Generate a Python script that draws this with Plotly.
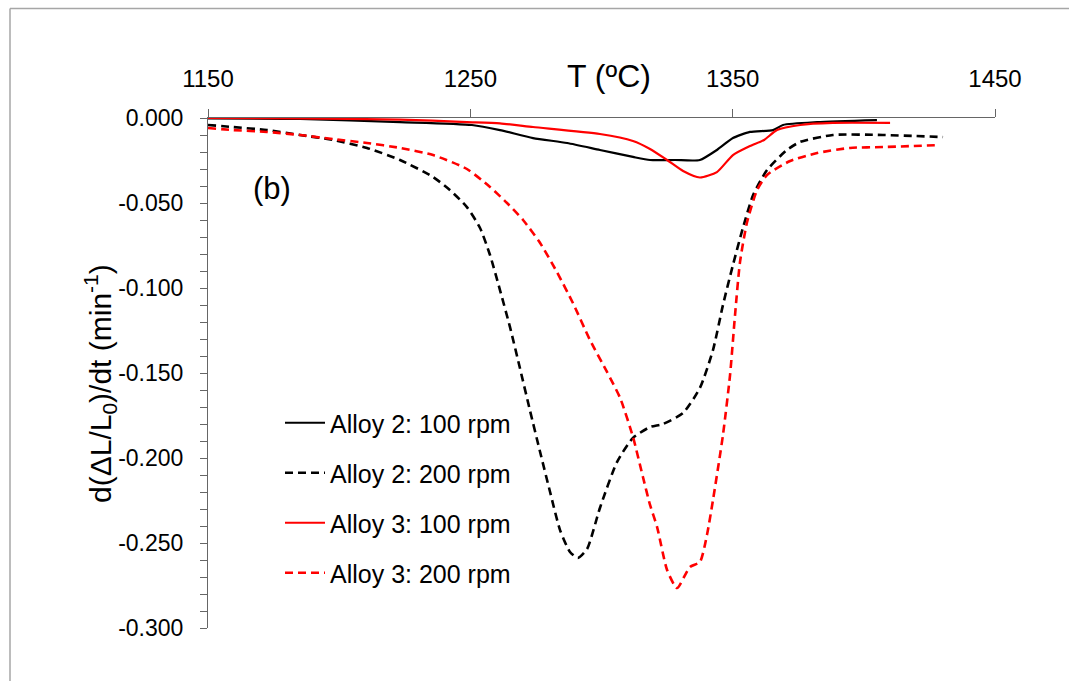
import plotly.graph_objects as go

# ---------------- data ----------------
t_a2_100 = [1150, 1185.1, 1223.2, 1250.6, 1261.3, 1273.9, 1286.9, 1299.4, 1312.0, 1318.5, 1328.0,
            1337.5, 1344.0, 1350.1, 1356.6, 1365.4, 1369.2, 1382.2, 1405.0]
y_a2_100 = [-0.0003, -0.0006, -0.0024, -0.0041, -0.0071, -0.0118, -0.0147, -0.0188, -0.0229, -0.0247, -0.0247,
            -0.0247, -0.0188, -0.0118, -0.0082, -0.0071, -0.0041, -0.0024, -0.0012]

t_a2_200 = [1150, 1159.5, 1172.5, 1185.1, 1197.6, 1210.6, 1223.2, 1235.8, 1242.2, 1248.7, 1253.7,
            1257.5, 1261.3, 1265.1, 1268.9, 1272.7, 1276.6, 1280.4, 1284.2, 1288.0, 1291.0, 1294.5,
            1299.4, 1305.9, 1312.0, 1318.5, 1323.4, 1331.1, 1337.5, 1342.5, 1346.3, 1350.1, 1353.9,
            1357.8, 1363.1, 1370.7, 1375.7, 1388.2, 1407.3, 1430.2]
y_a2_200 = [-0.0041, -0.0053, -0.0071, -0.0100, -0.0129, -0.0176, -0.0247, -0.0347, -0.0424, -0.0524, -0.0647,
            -0.0806, -0.1012, -0.1229, -0.1471, -0.1718, -0.1965, -0.2200, -0.2424, -0.2553, -0.2588, -0.2535,
            -0.2294, -0.2024, -0.1882, -0.1818, -0.1800, -0.1735, -0.1588, -0.1365, -0.1100, -0.0865, -0.0647,
            -0.0453, -0.0306, -0.0188, -0.0141, -0.0100, -0.0100, -0.0112]

t_a3_100 = [1150, 1185.1, 1223.2, 1248.7, 1261.3, 1273.9, 1299.4, 1312.0, 1318.5, 1325.0, 1331.1,
            1337.5, 1344.0, 1350.1, 1356.6, 1362.0, 1366.9, 1375.7, 1388.2, 1410.0]
y_a3_100 = [0.0, -0.0003, -0.0009, -0.0024, -0.0032, -0.0053, -0.0094, -0.0135, -0.0182, -0.0247, -0.0312,
            -0.0350, -0.0318, -0.0218, -0.0165, -0.0129, -0.0071, -0.0041, -0.0029, -0.0029]

t_a3_200 = [1150, 1159.5, 1172.5, 1185.1, 1197.6, 1210.6, 1223.2, 1235.8, 1248.7, 1257.5, 1264.0,
            1270.1, 1276.6, 1283.0, 1289.1, 1295.6, 1302.1, 1307.1, 1312.0, 1315.8, 1318.5, 1321.2,
            1325.0, 1328.8, 1333.7, 1337.5, 1340.2, 1342.5, 1346.3, 1349.0, 1350.9, 1352.8, 1355.5,
            1359.3, 1363.1, 1371.9, 1382.2, 1394.7, 1407.3, 1429.0]
y_a3_200 = [-0.0059, -0.0071, -0.0082, -0.0100, -0.0124, -0.0147, -0.0176, -0.0218, -0.0300, -0.0406, -0.0500,
            -0.0600, -0.0735, -0.0906, -0.1088, -0.1306, -0.1494, -0.1647, -0.1876, -0.2112, -0.2276, -0.2406,
            -0.2659, -0.2765, -0.2641, -0.2612, -0.2453, -0.2247, -0.1865, -0.1512, -0.1159, -0.0847, -0.0612,
            -0.0424, -0.0335, -0.0253, -0.0206, -0.0176, -0.0171, -0.0159]

series_names = ["Alloy 2: 100 rpm", "Alloy 2: 200 rpm", "Alloy 3: 100 rpm", "Alloy 3: 200 rpm"]

x_ticks = [1150, 1250, 1350, 1450]
y_ticks = [0.0, -0.05, -0.10, -0.15, -0.20, -0.25, -0.30]
y_ticktext = ["0.000", "-0.050", "-0.100", "-0.150", "-0.200", "-0.250", "-0.300"]

# ---------------- figure ----------------
FONT = "Liberation Sans, Arial, sans-serif"
fig = go.Figure()

styles = [
    dict(color="#000000", width=2.2, dash="solid"),
    dict(color="#000000", width=2.6, dash="8px,5px"),
    dict(color="#ff0000", width=2.2, dash="solid"),
    dict(color="#ff0000", width=2.6, dash="8px,5px"),
]
data = [(t_a2_100, y_a2_100), (t_a2_200, y_a2_200), (t_a3_100, y_a3_100), (t_a3_200, y_a3_200)]
legends = ["legend", "legend2", "legend3", "legend4"]

for (tx, ty), name, st, lg in zip(data, series_names, styles, legends):
    fig.add_trace(go.Scatter(
        x=tx, y=ty, mode="lines", name=name, legend=lg,
        line=dict(color=st["color"], width=st["width"], dash=st["dash"],
                  shape="spline", smoothing=0.6),
    ))

L, R, T, B = 208, 74, 118, 53
W, H = 1069, 681
pw, ph = W - L - R, H - T - B

def px2paper_x(px):
    return (px - L) / pw

def py2paper_y(py):
    return (H - B - py) / ph

leg_common = dict(font=dict(family=FONT, size=25, color="#000000"),
                  bgcolor="rgba(0,0,0,0)", xanchor="left", yanchor="middle",
                  itemwidth=40)
leg_rows = [423, 473, 523, 573]
layout_legends = {}
for lg, row in zip(legends, leg_rows):
    layout_legends[lg] = dict(x=px2paper_x(280), y=py2paper_y(row), **leg_common)

fig.update_layout(
    width=W, height=H,
    margin=dict(l=L, r=R, t=T, b=B),
    paper_bgcolor="white", plot_bgcolor="white",
    font=dict(family=FONT, color="#000000"),
    showlegend=True,
    **layout_legends,
    xaxis=dict(
        range=[1150, 1450], side="top", tickvals=x_ticks,
        ticks="outside", ticklen=8, tickcolor="#666666", tickwidth=1,
        showline=True, linecolor="#666666", linewidth=1,
        showgrid=False, zeroline=False,
        tickfont=dict(family=FONT, size=24, color="#000000"),
        ticklabelstandoff=12,
    ),
    yaxis=dict(
        range=[-0.3, 0.0], tickvals=y_ticks, ticktext=y_ticktext,
        ticks="outside", ticklen=7, tickcolor="#666666", tickwidth=1,
        minor=dict(dtick=0.01, ticks="outside", ticklen=7, tickcolor="#666666", showgrid=False),
        showline=True, linecolor="#666666", linewidth=1,
        showgrid=False, zeroline=False,
        tickfont=dict(family=FONT, size=23, color="#000000"),
        ticklabelstandoff=12,
    ),
    annotations=[
        dict(text="T (ºC)", xref="x", yref="paper", x=1303, y=py2paper_y(76),
             showarrow=False, font=dict(family=FONT, size=32, color="#000000"),
             xanchor="center", yanchor="middle"),
        dict(text="d(ΔL/L<sub>0</sub>)/dt (min<sup>-1</sup>)", xref="paper", yref="paper",
             x=px2paper_x(100), y=py2paper_y(383), textangle=-90,
             showarrow=False, font=dict(family=FONT, size=30, color="#000000"),
             xanchor="center", yanchor="middle"),
        dict(text="(b)", xref="x", yref="y", x=1174.4, y=-0.0412,
             showarrow=False, font=dict(family=FONT, size=31, color="#000000"),
             xanchor="center", yanchor="middle"),
    ],
    shapes=[
        dict(type="line", xref="paper", yref="paper", x0=px2paper_x(10), x1=px2paper_x(1075),
             y0=py2paper_y(8.5), y1=py2paper_y(8.5), line=dict(color="#a6a6a6", width=1.5)),
        dict(type="line", xref="paper", yref="paper", x0=px2paper_x(10), x1=px2paper_x(10),
             y0=py2paper_y(8.5), y1=py2paper_y(690), line=dict(color="#a6a6a6", width=1.5)),
    ],
)

fig.write_html("out.html")
